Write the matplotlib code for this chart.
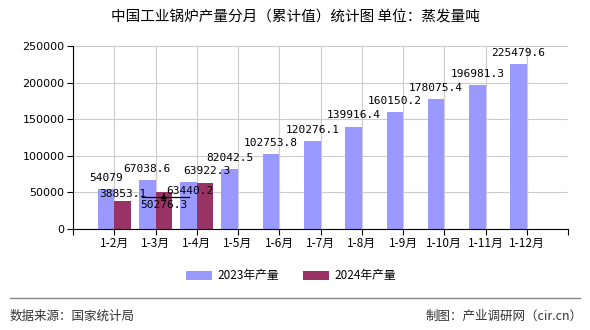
import matplotlib
matplotlib.use("Agg")
import matplotlib.pyplot as plt
import numpy as np

plt.rcParams['font.family'] = ['Noto Sans CJK SC', 'DejaVu Sans']

categories = ["1-2月", "1-3月", "1-4月", "1-5月", "1-6月", "1-7月", "1-8月",
              "1-9月", "1-10月", "1-11月", "1-12月"]
values_2023 = [54079, 67038.6, 63922.3, 82042.5, 102753.8, 120276.1, 139916.4,
               160150.2, 178075.4, 196981.3, 225479.6]
values_2024 = [38853.1, 50276.3, 63440.2]
labels_2023 = ["54079", "67038.6", "63922.3", "82042.5", "102753.8", "120276.1",
               "139916.4", "160150.2", "178075.4", "196981.3", "225479.6"]
labels_2024 = ["38853.1", "50276.3", "63440.2"]
series_names = ["2023年产量", "2024年产量"]
yticks = [0, 50000, 100000, 150000, 200000, 250000]

c2023 = "#9999FF"
c2024 = "#993366"

fig = plt.figure(figsize=(5.9, 3.3), dpi=100)
ax = fig.add_axes([73/590, 1-229/330, (568-73)/590, (229-46)/330])

x = np.arange(1, len(categories) + 1)
w = 0.4
ax.bar(x - w/2, values_2023, width=w, color=c2023, zorder=2, label=series_names[0])
ax.bar(x[:len(values_2024)] + w/2, values_2024, width=w, color=c2024, zorder=2, label=series_names[1])

ax.set_xlim(0, 12)
ax.set_ylim(0, 250000)
ax.set_yticks(yticks)
ax.set_yticklabels([str(v) for v in yticks], fontsize=8, family='DejaVu Sans')
ax.set_xticks(np.arange(0, 13))
ax.set_xticklabels([""] + categories + [""], fontsize=8.5)
ax.tick_params(axis='both', direction='out', length=4, width=0.8, color='black', pad=2)
ax.grid(True, color='#cccccc', linewidth=0.8, zorder=0)
for s in ['top', 'right']:
    ax.spines[s].set_visible(False)
for s in ['left', 'bottom']:
    ax.spines[s].set_color('black')
    ax.spines[s].set_linewidth(0.8)

mono = dict(family='DejaVu Sans Mono', fontsize=8, color='black')
# label offsets (points) relative to bar top centre
off23 = [(0, 8)] * len(values_2023)
off23 = list(off23)
off23[2] = (13, 8)
for xi, v, lab, (dx, dy) in zip(x - w/2, values_2023, labels_2023, off23):
    ax.annotate(lab, (xi, v), xytext=(dx, dy), textcoords='offset points',
                ha='center', va='center', **mono, zorder=4)
off24 = [(0, 5), (0, -9), (-11, -6)]
for xi, v, lab, (dx, dy) in zip(x[:len(values_2024)] + w/2, values_2024, labels_2024, off24):
    ax.annotate(lab, (xi, v), xytext=(dx, dy), textcoords='offset points',
                ha='center', va='center', **mono, zorder=4)
# leader mark for displaced label
ax.annotate("", xy=(x[1] + w/2, values_2024[1] - 1500), xytext=(x[1] + w/2, values_2024[1] - 6500),
            arrowprops=dict(arrowstyle='-|>', color='black', lw=0.8, mutation_scale=8), zorder=5)
ax.plot([x[1] - 0.32, x[1] + 0.8], [values_2024[1] - 6500] * 2, color='black', lw=0.9, zorder=5)

fig.text(295/590, 1-17/330, "中国工业锅炉产量分月（累计值）统计图 单位：蒸发量吨",
         ha='center', va='center', fontsize=10.5, color='black')

leg = fig.legend(loc='center', bbox_to_anchor=(291/590, 1-276/330), ncol=2, frameon=False,
                 fontsize=8.5, handlelength=2.2, handleheight=0.9, columnspacing=2.0, handletextpad=0.5)

fig.add_artist(plt.Line2D([10/590, 580/590], [1-298/330, 1-298/330], color='#888888', lw=1))
fig.text(10/590, 1-316/330, "数据来源：国家统计局", ha='left', va='center', fontsize=9, color='#333333')
fig.text(583/590, 1-316/330, "制图：产业调研网（cir.cn）", ha='right', va='center', fontsize=9, color='#333333')

fig.savefig("out.png", dpi=100)
